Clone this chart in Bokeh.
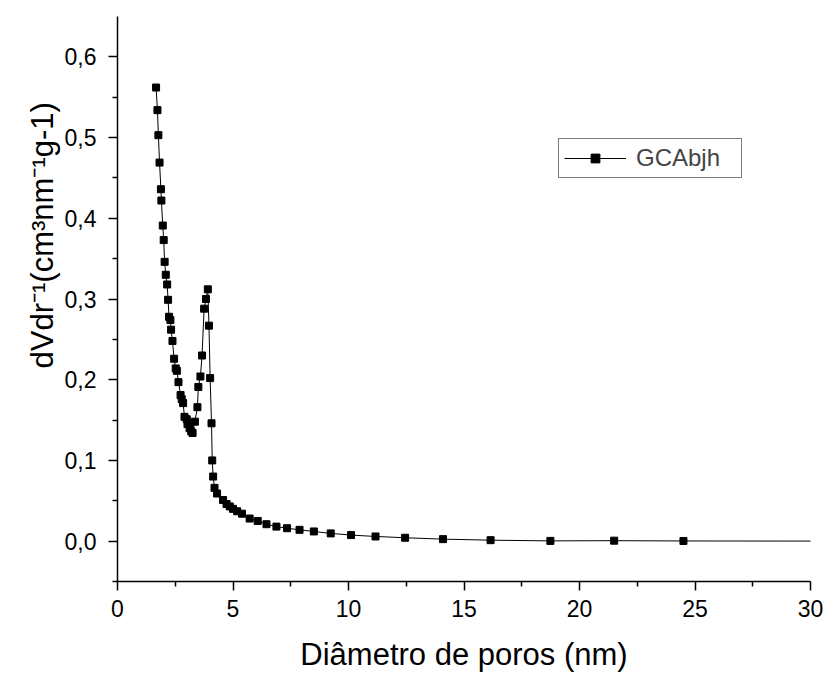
from bokeh.plotting import figure
from bokeh.models import Range1d, FixedTicker, CustomJSTickFormatter, Legend, LegendItem, Title
from bokeh.embed import file_html
from bokeh.resources import INLINE

# Pore diameter (nm) and dV/dr values
diameter = [1.67, 1.73, 1.77, 1.82, 1.88, 1.90, 1.96, 2.00, 2.04, 2.09, 2.15, 2.19,
            2.23, 2.29, 2.32, 2.38, 2.45, 2.52, 2.57, 2.64, 2.73, 2.78, 2.84, 2.90,
            3.00, 3.03, 3.12, 3.19, 3.25, 3.35, 3.46, 3.50, 3.59, 3.66, 3.75, 3.83,
            3.91, 3.96, 4.01, 4.07, 4.10, 4.14, 4.20, 4.31, 4.57, 4.72, 4.86, 5.00,
            5.18, 5.39, 5.72, 6.07, 6.45, 6.88, 7.34, 7.88, 8.50, 9.23, 10.11, 11.17,
            12.45, 14.09, 16.15, 18.74, 21.50, 24.50, 33.50]
dvdr = [0.562, 0.534, 0.503, 0.469, 0.436, 0.422, 0.391, 0.373, 0.346, 0.330, 0.318, 0.299,
        0.278, 0.274, 0.262, 0.248, 0.226, 0.214, 0.211, 0.197, 0.181, 0.176, 0.171, 0.154,
        0.151, 0.145, 0.140, 0.136, 0.134, 0.148, 0.166, 0.191, 0.204, 0.230, 0.288, 0.300,
        0.312, 0.267, 0.202, 0.146, 0.100, 0.080, 0.066, 0.059, 0.051, 0.046, 0.043, 0.040,
        0.037, 0.034, 0.028, 0.025, 0.021, 0.018, 0.016, 0.014, 0.012, 0.0096, 0.0075, 0.0058,
        0.0042, 0.0025, 0.0012, 0.0003, 0.0006, 0.0002, 0.0]

x_major = [0, 5, 10, 15, 20, 25, 30]
x_minor = [2.5, 7.5, 12.5, 17.5, 22.5, 27.5]
y_major = [0.0, 0.1, 0.2, 0.3, 0.4, 0.5, 0.6]
y_minor = [-0.05, 0.05, 0.15, 0.25, 0.35, 0.45, 0.55]

series_name = "GCAbjh"
x_label = "Diâmetro de poros (nm)"
y_label = "dVdr\u207b\u00b9(cm\u00b3nm\u207b\u00b9g-1)"

FONT = "Liberation Sans"

p = figure(width=829, height=676, output_backend="svg", toolbar_location=None,
           x_range=Range1d(0, 30), y_range=Range1d(-0.05, 0.65),
           min_border_left=117, min_border_right=19, min_border_top=16, min_border_bottom=95)
p.outline_line_color = None
p.xgrid.visible = False
p.ygrid.visible = False
p.background_fill_color = "white"
p.border_fill_color = "white"

ln = p.line(diameter, dvdr, line_color="black", line_width=1)
mk = p.scatter(diameter, dvdr, marker="square", size=7, fill_color="black", line_color="black")

for ax in (p.xaxis[0], p.yaxis[0]):
    ax.axis_line_width = 1.5
    ax.axis_line_color = "black"
    ax.major_tick_line_width = 1.5
    ax.minor_tick_line_width = 1.5
    ax.major_tick_in = 0
    ax.major_tick_out = 9
    ax.minor_tick_in = 0
    ax.minor_tick_out = 5
    ax.major_label_text_font = FONT
    ax.major_label_text_font_size = "23px"
    ax.major_label_text_color = "black"
    ax.axis_label_text_font = FONT
    ax.axis_label_text_font_size = "31px"
    ax.axis_label_text_font_style = "normal"
    ax.axis_label_text_color = "black"

p.xaxis.ticker = FixedTicker(ticks=x_major, minor_ticks=x_minor)
p.yaxis.ticker = FixedTicker(ticks=y_major, minor_ticks=y_minor)
p.yaxis.formatter = CustomJSTickFormatter(code="return tick.toFixed(1).replace('.', ',');")
p.xaxis.formatter = CustomJSTickFormatter(code="return tick.toFixed(0);")
p.xaxis.major_label_standoff = 9
p.yaxis.major_label_standoff = 12
p.xaxis.axis_label = x_label
p.xaxis.axis_label_standoff = 17

# y axis title, placed like the reference (starting above the axis bottom)
ytitle = Title(text=y_label, align="left", offset=213, standoff=4,
               text_font=FONT, text_font_size="31px", text_font_style="normal",
               text_color="black")
p.add_layout(ytitle, "left")

legend = Legend(items=[LegendItem(label=series_name, renderers=[ln, mk])],
                location=(441, 403), padding=5, margin=0, glyph_width=62, glyph_height=22,
                label_standoff=10, label_width=100,
                label_text_font=FONT, label_text_font_size="24px",
                border_line_color="black", border_line_width=1,
                background_fill_alpha=1.0)
p.add_layout(legend, "center")

open("out.html", "w").write(file_html(p, INLINE))
